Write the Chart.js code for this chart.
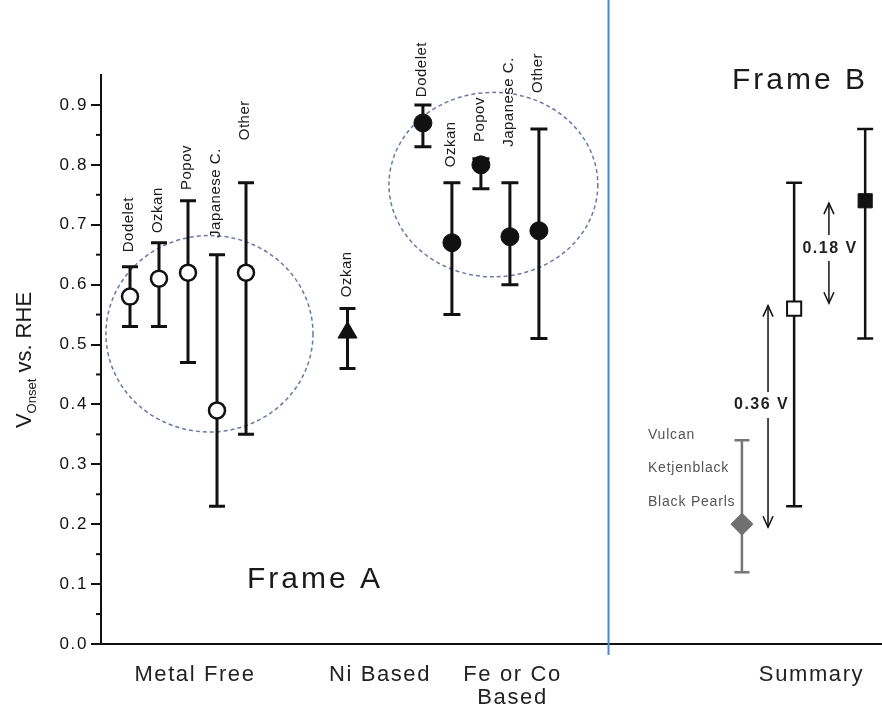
<!DOCTYPE html>
<html>
<head>
<meta charset="utf-8">
<title>Onset potential by catalyst type</title>
<script src="https://cdn.jsdelivr.net/npm/chart.js@4.4.1/dist/chart.umd.min.js"></script>
<style>
  html, body { margin: 0; padding: 0; background: #fff; overflow: hidden; }
  #wrap { width: 882px; height: 709px; position: relative; }
</style>
</head>
<body>
<div id="wrap"><canvas id="onsetChart"></canvas></div>
<script>
const family = "'Liberation Sans', Arial, sans-serif";

// x axis groups
const groupLabels = ['Metal Free', 'Ni Based', ['Fe or Co', 'Based'], 'Summary'];
const groupCenters = [3.24, 9.62, 14.19, 24.5];
const yTicks = [0, 0.1, 0.2, 0.3, 0.4, 0.5, 0.6, 0.7, 0.8, 0.9];
const yMinorTicks = [0.05, 0.15, 0.25, 0.35, 0.45, 0.55, 0.65, 0.75, 0.85];

// metal free catalysts
const mfNames = ['Dodelet', 'Ozkan', 'Popov', 'Japanese C.', 'Other'];
const mfX = [1, 2, 3, 4, 5];
const mfOnset = [0.58, 0.61, 0.62, 0.39, 0.62];
const mfLow = [0.53, 0.53, 0.47, 0.23, 0.35];
const mfHigh = [0.63, 0.67, 0.74, 0.65, 0.77];
const mfNameAt = [0.654, 0.686, 0.758, 0.678, 0.841];

// Ni based
const niNames = ['Ozkan'];
const niX = [8.5];
const niOnset = [0.52];
const niLow = [0.46];
const niHigh = [0.56];
const niNameAt = [0.579];

// Fe or Co based
const feNames = ['Dodelet', 'Ozkan', 'Popov', 'Japanese C.', 'Other'];
const feX = [11.1, 12.1, 13.1, 14.1, 15.1];
const feOnset = [0.87, 0.67, 0.80, 0.68, 0.69];
const feLow = [0.83, 0.55, 0.76, 0.60, 0.51];
const feHigh = [0.90, 0.77, 0.81, 0.77, 0.86];
const feNameAt = [0.913, 0.796, 0.838, 0.830, 0.92];

// summary: bare carbons, metal free average, metal based average
const carbonNames = ['Vulcan', 'Ketjenblack', 'Black Pearls'];
const carbonNameX = [18.86, 18.86, 18.86];
const carbonNameAt = [0.349, 0.294, 0.237];
const carbonX = [22.1];
const carbonOnset = [0.20];
const carbonLow = [0.12];
const carbonHigh = [0.34];
const mfAvgX = [23.9];
const mfAvgOnset = [0.56];
const mfAvgLow = [0.23];
const mfAvgHigh = [0.77];
const metalAvgX = [26.35];
const metalAvgOnset = [0.74];
const metalAvgLow = [0.51];
const metalAvgHigh = [0.86];

// gaps between the summary points
const gapLabels = ['0.36 V', '0.18 V'];
const gapX = [23.0, 25.1];
const gapFrom = [0.195, 0.569];
const gapTo = [0.565, 0.736];
const gapLabelX = [22.78, 25.14];
const gapLabelAt = [0.399, 0.661];

// dashed rings around the clusters
const ringX = [3.74, 13.53];
const ringY = [0.518, 0.767];
const ringRx = [3.57, 3.6];
const ringRy = [0.164, 0.154];

const dividerX = 17.5;
const frameLabels = ['Frame A', 'Frame B'];
const frameX = [7.38, 24.1];
const frameY = [0.107, 0.94];

function points(xs, ys) {
  return xs.map((x, i) => ({ x: x, y: ys[i] }));
}

const errorGroups = [
  { xs: mfX, lo: mfLow, hi: mfHigh, color: '#111', width: 3, cap: 8 },
  { xs: niX, lo: niLow, hi: niHigh, color: '#111', width: 3, cap: 8 },
  { xs: feX, lo: feLow, hi: feHigh, color: '#111', width: 3, cap: 8.5 },
  { xs: carbonX, lo: carbonLow, hi: carbonHigh, color: '#777', width: 2.5, cap: 7.5 },
  { xs: mfAvgX, lo: mfAvgLow, hi: mfAvgHigh, color: '#111', width: 2.5, cap: 8 },
  { xs: metalAvgX, lo: metalAvgLow, hi: metalAvgHigh, color: '#111', width: 2.5, cap: 8 }
];

const nameGroups = [
  { xs: mfX, names: mfNames, at: mfNameAt },
  { xs: niX, names: niNames, at: niNameAt },
  { xs: feX, names: feNames, at: feNameAt }
];

function arrowHead(ctx, x, y, dir) {
  ctx.beginPath();
  ctx.moveTo(x - 5, y + dir * 11);
  ctx.lineTo(x, y);
  ctx.lineTo(x + 5, y + dir * 11);
  ctx.stroke();
}

const overlay = {
  id: 'overlay',
  beforeDraw(chart) {
    chart.ctx.letterSpacing = '1.6px';
  },
  beforeDatasetsDraw(chart) {
    const ctx = chart.ctx;
    const x = chart.scales.x, y = chart.scales.y;
    ctx.save();

    // dashed rings
    ctx.strokeStyle = '#6b78a6';
    ctx.lineWidth = 1.5;
    ctx.setLineDash([4, 3]);
    ringX.forEach((cx, i) => {
      const px = x.getPixelForValue(cx), py = y.getPixelForValue(ringY[i]);
      const rx = x.getPixelForValue(cx + ringRx[i]) - px;
      const ry = py - y.getPixelForValue(ringY[i] + ringRy[i]);
      ctx.beginPath();
      ctx.ellipse(px, py, rx, ry, 0, 0, Math.PI * 2);
      ctx.stroke();
    });
    ctx.setLineDash([]);

    // divider between the two frames
    const dx = x.getPixelForValue(dividerX);
    ctx.strokeStyle = '#4a86d4';
    ctx.lineWidth = 2;
    ctx.beginPath();
    ctx.moveTo(dx, 0);
    ctx.lineTo(dx, chart.chartArea.bottom + 11);
    ctx.stroke();

    // error bars
    errorGroups.forEach(g => {
      ctx.strokeStyle = g.color;
      ctx.lineWidth = g.width;
      g.xs.forEach((v, i) => {
        const px = x.getPixelForValue(v);
        const top = y.getPixelForValue(g.hi[i]);
        const bot = y.getPixelForValue(g.lo[i]);
        ctx.beginPath();
        ctx.moveTo(px, top);
        ctx.lineTo(px, bot);
        ctx.moveTo(px - g.cap, top);
        ctx.lineTo(px + g.cap, top);
        ctx.moveTo(px - g.cap, bot);
        ctx.lineTo(px + g.cap, bot);
        ctx.stroke();
      });
    });

    // gap arrows with their labels
    ctx.font = 'bold 16px ' + family;
    ctx.letterSpacing = '1.5px';
    ctx.textAlign = 'center';
    ctx.textBaseline = 'middle';
    ctx.fillStyle = '#222';
    ctx.strokeStyle = '#111';
    ctx.lineWidth = 1.5;
    gapLabels.forEach((label, i) => {
      const px = x.getPixelForValue(gapX[i]);
      const lo = y.getPixelForValue(gapFrom[i]);
      const hi = y.getPixelForValue(gapTo[i]);
      const ly = y.getPixelForValue(gapLabelAt[i]);
      ctx.beginPath();
      ctx.moveTo(px, hi);
      ctx.lineTo(px, ly - 13);
      ctx.moveTo(px, ly + 13);
      ctx.lineTo(px, lo);
      ctx.stroke();
      arrowHead(ctx, px, hi, 1);
      arrowHead(ctx, px, lo, -1);
      ctx.fillText(label, x.getPixelForValue(gapLabelX[i]), ly);
    });
    ctx.restore();
  },
  afterDraw(chart) {
    const ctx = chart.ctx;
    const x = chart.scales.x, y = chart.scales.y;
    ctx.save();

    // minor ticks on the y axis
    ctx.strokeStyle = '#111';
    ctx.lineWidth = 2;
    const ax = chart.chartArea.left;
    yMinorTicks.forEach(v => {
      const py = y.getPixelForValue(v);
      ctx.beginPath();
      ctx.moveTo(ax - 5, py);
      ctx.lineTo(ax, py);
      ctx.stroke();
    });

    // rotated catalyst names
    ctx.fillStyle = '#1a1a1a';
    ctx.font = '15px ' + family;
    ctx.letterSpacing = '0.5px';
    ctx.textAlign = 'left';
    ctx.textBaseline = 'middle';
    nameGroups.forEach(g => {
      g.names.forEach((name, i) => {
        ctx.save();
        ctx.translate(x.getPixelForValue(g.xs[i]) - 1, y.getPixelForValue(g.at[i]));
        ctx.rotate(-Math.PI / 2);
        ctx.fillText(name, 0, 0);
        ctx.restore();
      });
    });

    // carbon support names
    ctx.fillStyle = '#555';
    ctx.font = '14px ' + family;
    ctx.letterSpacing = '0.8px';
    carbonNames.forEach((name, i) => {
      ctx.fillText(name, x.getPixelForValue(carbonNameX[i]), y.getPixelForValue(carbonNameAt[i]));
    });

    // frame captions
    ctx.fillStyle = '#1a1a1a';
    ctx.font = '30px ' + family;
    ctx.letterSpacing = '3px';
    ctx.textAlign = 'center';
    frameLabels.forEach((label, i) => {
      ctx.fillText(label, x.getPixelForValue(frameX[i]), y.getPixelForValue(frameY[i]));
    });

    // y axis title with subscript
    ctx.letterSpacing = '0px';
    ctx.translate(31, 360);
    ctx.rotate(-Math.PI / 2);
    ctx.textAlign = 'left';
    ctx.textBaseline = 'alphabetic';
    const big = '22px ' + family, small = '13px ' + family;
    ctx.font = big;
    const wV = ctx.measureText('V').width;
    const wRest = ctx.measureText(' vs. RHE').width;
    ctx.font = small;
    const wSub = ctx.measureText('Onset').width;
    let pos = -(wV + wSub + wRest) / 2;
    ctx.font = big;
    ctx.fillText('V', pos, 0);
    pos += wV;
    ctx.font = small;
    ctx.fillText('Onset', pos, 5);
    pos += wSub;
    ctx.font = big;
    ctx.fillText(' vs. RHE', pos, 0);
    ctx.restore();
  }
};

const ctx = document.getElementById('onsetChart').getContext('2d');
const onsetChart = new Chart(ctx, {
  type: 'scatter',
  data: {
    datasets: [
      {
        label: 'Metal free',
        data: points(mfX, mfOnset),
        pointStyle: 'circle',
        pointRadius: 8,
        backgroundColor: '#fff',
        borderColor: '#111',
        borderWidth: 2.5
      },
      {
        label: 'Ni based',
        data: points(niX, niOnset),
        pointStyle: 'triangle',
        pointRadius: 11,
        backgroundColor: '#111',
        borderColor: '#111',
        borderWidth: 1
      },
      {
        label: 'Fe or Co based',
        data: points(feX, feOnset),
        pointStyle: 'circle',
        pointRadius: 9,
        backgroundColor: '#111',
        borderColor: '#111',
        borderWidth: 1
      },
      {
        label: 'Carbon',
        data: points(carbonX, carbonOnset),
        pointStyle: 'rectRot',
        pointRadius: 11,
        backgroundColor: '#707070',
        borderColor: '#707070',
        borderWidth: 1
      },
      {
        label: 'Metal free average',
        data: points(mfAvgX, mfAvgOnset),
        pointStyle: 'rect',
        pointRadius: 10,
        backgroundColor: '#fff',
        borderColor: '#111',
        borderWidth: 2
      },
      {
        label: 'Metal based average',
        data: points(metalAvgX, metalAvgOnset),
        pointStyle: 'rect',
        pointRadius: 10,
        backgroundColor: '#111',
        borderColor: '#111',
        borderWidth: 1
      }
    ]
  },
  options: {
    responsive: true,
    maintainAspectRatio: false,
    animation: false,
    layout: { autoPadding: false, padding: { top: 75, left: 0, right: 0, bottom: 0 } },
    plugins: {
      legend: { display: false },
      tooltip: { enabled: false }
    },
    scales: {
      x: {
        type: 'linear',
        min: 0,
        max: 26.93,
        afterBuildTicks: scale => { scale.ticks = groupCenters.map(v => ({ value: v })); },
        afterFit: scale => {
          scale.height = 65;
          scale.paddingLeft = 0;
          scale.paddingRight = 0;
        },
        ticks: {
          callback: (v, i) => groupLabels[i],
          font: { size: 22, family: family, lineHeight: 1.05 },
          color: '#222',
          padding: 19,
          maxRotation: 0,
          autoSkip: false
        },
        grid: { display: false, drawTicks: false },
        border: { display: true, color: '#111', width: 2 }
      },
      y: {
        min: 0,
        max: 0.95,
        afterBuildTicks: scale => { scale.ticks = yTicks.map(v => ({ value: v })); },
        afterFit: scale => {
          scale.width = 101;
          scale.paddingTop = 0;
          scale.paddingBottom = 0;
        },
        ticks: {
          callback: v => v.toFixed(1),
          font: { size: 17, family: family },
          color: '#111',
          padding: 3
        },
        grid: { drawOnChartArea: false, tickLength: 10, color: '#111', lineWidth: 2 },
        border: { color: '#111', width: 2 }
      }
    }
  },
  plugins: [overlay]
});
</script>
</body>
</html>
